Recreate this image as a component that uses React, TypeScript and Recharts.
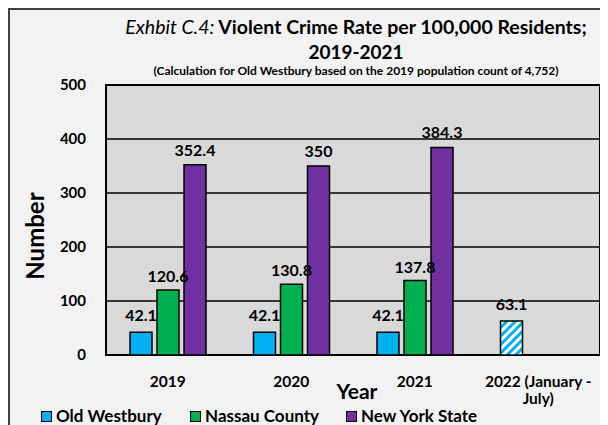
import React from 'react';
import { BarChart, Bar, XAxis, YAxis, CartesianGrid, ReferenceArea, LabelList, Cell } from 'recharts';

const years = ['2019', '2020', '2021', '2022 (January - July)'];
const oldWestbury = [42.1, 42.1, 42.1, 63.1];
const nassauCounty = [120.6, 130.8, 137.8, null];
const newYorkState = [352.4, 350, 384.3, null];
const yTicks = [0, 100, 200, 300, 400, 500];

const seriesNames = ['Old Westbury', 'Nassau County', 'New York State'];
const seriesColors = ['#00b0f0', '#00b050', '#7030a0'];

const data = years.map((y, i) => ({
  year: y,
  ow: oldWestbury[i],
  nc: nassauCounty[i],
  nys: newYorkState[i],
}));

const FONT = 'Lato, "Open Sans", sans-serif';

const YearTick = (props: any) => {
  const { x, y, payload } = props;
  const v: string = payload.value;
  const lines = v.startsWith('2022') ? ['2022 (January -', 'July)'] : [v];
  return (
    <text x={x} y={y} textAnchor="middle" fontFamily={FONT} fontWeight={700} fontSize={15.5} fill="#000">
      {lines.map((l, i) => (
        <tspan key={i} x={x} dy={i === 0 ? 32 : 17}>{l}</tspan>
      ))}
    </text>
  );
};

const fmt = (v: any) => (v === null || v === undefined ? '' : v);

export default function App() {
  return (
    <div
      style={{
        position: 'relative',
        width: 600,
        height: 420,
        boxSizing: 'border-box',
        background: '#f2f2f2',
        borderTop: '2px solid #404040',
        borderLeft: '2px solid #404040',
        fontFamily: FONT,
        color: '#000',
      }}
    >
      <style>{`html,body{overflow:hidden}`}</style>
      <div style={{ position: 'absolute', left: 46, top: 5, width: 600, textAlign: 'center', fontSize: 19.5, lineHeight: '23px', whiteSpace: 'nowrap' }}>
        <span style={{ fontStyle: 'italic', fontWeight: 400 }}>Exhbit C.4:</span>
        <span style={{ fontWeight: 700 }}> Violent Crime Rate per 100,000 Residents;</span>
      </div>
      <div style={{ position: 'absolute', left: 96, top: 30, width: 500, textAlign: 'center', fontSize: 19, lineHeight: '23px', fontWeight: 700 }}>
        2019-2021
      </div>
      <div style={{ position: 'absolute', left: 46, top: 54, width: 600, textAlign: 'center', fontSize: 12, lineHeight: '14px', fontWeight: 700, whiteSpace: 'nowrap' }}>
        (Calculation for Old Westbury based on the 2019 population count of 4,752)
      </div>

      <BarChart
        width={598}
        height={418}
        data={data}
        margin={{ top: 75, right: 8, bottom: 33, left: 0 }}
        barSize={22}
        barGap={5}
      >
        <defs>
          <pattern id="hatch" patternUnits="userSpaceOnUse" width="6" height="6" patternTransform="rotate(45)">
            <rect width="6" height="6" fill="#ffffff" />
            <rect width="3" height="6" fill="#00b0f0" />
          </pattern>
        </defs>
        <CartesianGrid vertical={false} stroke="#000" strokeWidth={1.5} fill="#d9d9d9" fillOpacity={1} />
        <XAxis
          dataKey="year"
          axisLine={false}
          tickLine={false}
          tickSize={0}
          tickMargin={0}
          height={40}
          interval={0}
          tick={<YearTick />}
        />
        <YAxis
          domain={[0, 500]}
          ticks={yTicks}
          width={96}
          axisLine={false}
          tickLine={false}
          tickSize={0}
          tickMargin={20}
          tick={{ fontFamily: FONT, fontWeight: 700, fontSize: 15, fill: '#000' }}
        />
        <Bar dataKey="ow" name={seriesNames[0]} fill={seriesColors[0]} stroke="#000" strokeWidth={1.5} isAnimationActive={false}>
          {data.map((d, i) => (
            <Cell key={i} fill={d.year.startsWith('2022') ? 'url(#hatch)' : seriesColors[0]} />
          ))}
          <LabelList dataKey="ow" position="top" offset={11} formatter={fmt} style={{ fontFamily: FONT, fontWeight: 700, fontSize: 16, fill: '#000' }} />
        </Bar>
        <Bar dataKey="nc" name={seriesNames[1]} fill={seriesColors[1]} stroke="#000" strokeWidth={1.5} isAnimationActive={false}>
          <LabelList dataKey="nc" position="top" offset={8} formatter={fmt} style={{ fontFamily: FONT, fontWeight: 700, fontSize: 16, fill: '#000' }} />
        </Bar>
        <Bar dataKey="nys" name={seriesNames[2]} fill={seriesColors[2]} stroke="#000" strokeWidth={1.5} isAnimationActive={false}>
          <LabelList dataKey="nys" position="top" offset={9} formatter={fmt} style={{ fontFamily: FONT, fontWeight: 700, fontSize: 16, fill: '#000' }} />
        </Bar>
        <ReferenceArea y1={0} y2={500} fill="none" stroke="#000" strokeWidth={2} ifOverflow="visible" />
      </BarChart>

      <div
        style={{
          position: 'absolute',
          left: -35,
          top: 213,
          width: 120,
          height: 26,
          lineHeight: '26px',
          textAlign: 'center',
          fontSize: 24,
          fontWeight: 700,
          transform: 'rotate(-90deg)',
        }}
      >
        Number
      </div>
      <div style={{ position: 'absolute', left: 297, top: 368, width: 100, textAlign: 'center', fontSize: 21, lineHeight: 1.2, fontWeight: 700 }}>
        Year
      </div>

      {seriesNames.map((n, i) => (
        <div
          key={n}
          style={{ position: 'absolute', left: [31, 180, 336][i], top: 396, display: 'flex', alignItems: 'center', fontSize: 17, fontWeight: 700, lineHeight: '20px' }}
        >
          <span style={{ display: 'inline-block', width: 9, height: 9, border: '1.5px solid #000', background: seriesColors[i], marginRight: 4 }} />
          {n}
        </div>
      ))}
    </div>
  );
}
